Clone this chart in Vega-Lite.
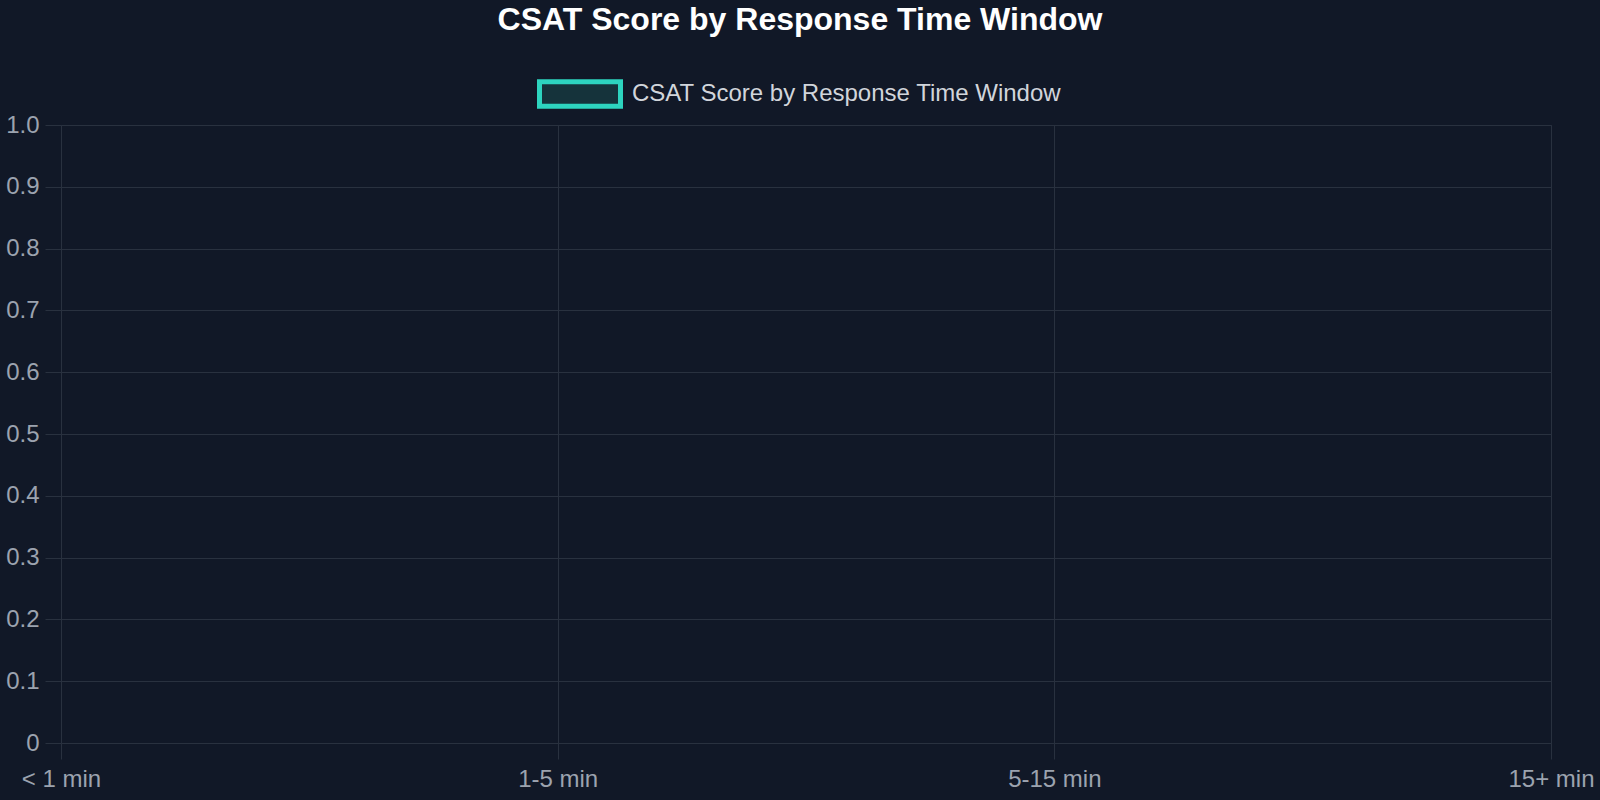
{
  "$schema": "https://vega.github.io/schema/vega-lite/v6.json",
  "width": 1490,
  "height": 618,
  "autosize": {"type": "none"},
  "padding": {"left": 61, "top": 125, "right": 49, "bottom": 57},
  "background": "#111827",
  "title": {
    "text": "CSAT Score by Response Time Window",
    "anchor": "middle",
    "frame": "group",
    "dx": -6,
    "offset": -11,
    "baseline": "alphabetic",
    "font": "Liberation Sans",
    "fontSize": 32,
    "fontWeight": "bold",
    "color": "#ffffff"
  },
  "data": {
    "values": [
      {"window": "< 1 min", "csat": null, "series": "CSAT Score by Response Time Window"},
      {"window": "1-5 min", "csat": null, "series": "CSAT Score by Response Time Window"},
      {"window": "5-15 min", "csat": null, "series": "CSAT Score by Response Time Window"},
      {"window": "15+ min", "csat": null, "series": "CSAT Score by Response Time Window"}
    ]
  },
  "mark": {"type": "line", "strokeWidth": 3},
  "encoding": {
    "x": {
      "field": "window",
      "type": "ordinal",
      "sort": null,
      "scale": {"type": "point", "padding": 0, "domain": ["< 1 min", "1-5 min", "5-15 min", "15+ min"]},
      "axis": {
        "title": null,
        "labelAngle": 0,
        "labelFont": "Liberation Sans",
        "labelFontSize": 24,
        "labelColor": "#9ca3af",
        "labelPadding": 8,
        "tickSize": 16,
        "tickColor": "#29313f",
        "domainColor": "#29313f",
        "grid": true,
        "gridColor": "#29313f"
      }
    },
    "y": {
      "field": "csat",
      "type": "quantitative",
      "scale": {"domain": [0, 1], "nice": false, "zero": true},
      "axis": {
        "title": null,
        "values": [0, 0.1, 0.2, 0.3, 0.4, 0.5, 0.6, 0.7, 0.8, 0.9, 1],
        "labelExpr": "datum.value == 0 ? '0' : format(datum.value, '.1f')",
        "labelFont": "Liberation Sans",
        "labelFontSize": 24,
        "labelColor": "#9ca3af",
        "labelPadding": 6,
        "tickSize": 16,
        "tickColor": "#29313f",
        "domainColor": "#29313f",
        "grid": true,
        "gridColor": "#29313f"
      }
    },
    "color": {
      "field": "series",
      "type": "nominal",
      "scale": {"domain": ["CSAT Score by Response Time Window"], "range": ["#2dd4bf"]},
      "legend": {
        "title": null,
        "orient": "none",
        "legendX": 476,
        "legendY": -74,
        "padding": 0,
        "symbolType": "M-1,-0.3H1V0.3H-1Z",
        "symbolSize": 6561,
        "symbolFillColor": "#15333b",
        "symbolStrokeColor": "#2dd4bf",
        "symbolStrokeWidth": 5,
        "labelFont": "Liberation Sans",
        "labelFontSize": 24,
        "labelColor": "#d1d5db",
        "labelOffset": 9,
        "labelLimit": 0,
        "encode": {
          "symbols": {
            "update": {
              "fill": {"value": "#15333b"},
              "fillOpacity": {"value": 1},
              "stroke": {"value": "#2dd4bf"},
              "strokeWidth": {"value": 5},
              "opacity": {"value": 1}
            }
          }
        }
      }
    }
  },
  "config": {
    "view": {"stroke": "#29313f"}
  }
}
